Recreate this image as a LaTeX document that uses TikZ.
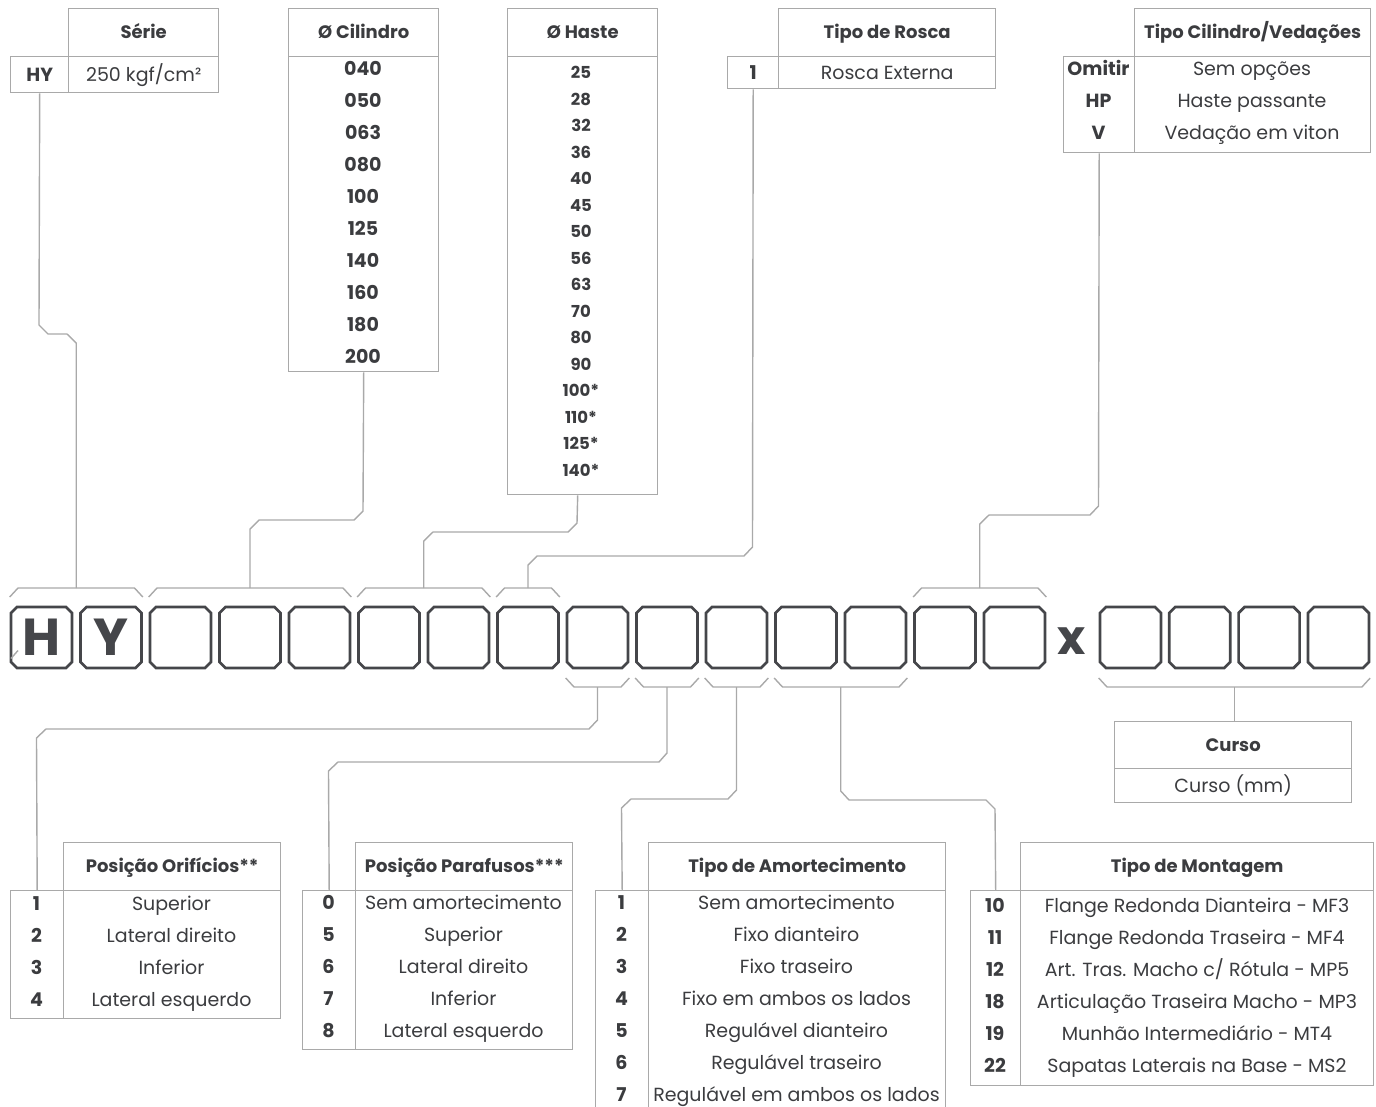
\documentclass[tikz,border=0pt]{standalone}
\usepackage{fontspec}
\setmainfont{Poppins}
\usepackage{tikz}
\usetikzlibrary{calc, positioning}

\definecolor{tinta}{HTML}{3B3C3F}
\definecolor{linha}{HTML}{A9A9A9}
\definecolor{caixa}{HTML}{45464A}

\begin{document}
\begin{tikzpicture}[x=1pt, y=-1pt,
    fio/.style={draw=linha, line width=1.4pt},
    contorno/.style={draw=caixa, line width=2.7pt, line join=miter},
    cela/.style={draw=linha, line width=1.4pt, anchor=north west, inner sep=0pt, text=tinta},
    titulo/.style={font=\bfseries\fontsize{18}{18}\selectfont, text height=15pt, text depth=3pt},
    texto/.style={text=tinta, font=\fontsize{19}{19}\selectfont, text height=16pt, text depth=3pt},
    codigo/.style={text=tinta, font=\bfseries\fontsize{19}{19}\selectfont, text height=16pt, text depth=3pt},
    haste/.style={text=tinta, font=\bfseries\fontsize{16.5}{16.5}\selectfont, text height=13pt, text depth=2pt},
    casa/.style={rectangle, minimum width=61pt, minimum height=61pt, inner sep=0pt, outer sep=0pt},
    letra/.style={text=caixa, font=\bfseries\fontsize{52}{52}\selectfont},
]

    % =================================================================
    % 0. AREA DO DESENHO
    % =================================================================
    \useasboundingbox (0,0) rectangle (1376,1106);
    \clip (0,0) rectangle (1376,1106);

    % =================================================================
    % 1. CASAS DO CODIGO (octogonos)
    % =================================================================
    \foreach \i in {1,...,15}
        \node[casa] (s\i) at ({41.5+69.5*(\i-1)},637.5) {};
    \foreach \j in {1,...,4}
        \node[casa] (c\j) at ({1130.5+69.3*(\j-1)},637.5) {};

    \foreach \n in {s1,s2,s3,s4,s5,s6,s7,s8,s9,s10,s11,s12,s13,s14,s15,c1,c2,c3,c4}
        \draw[contorno] ($(\n.north west)+(6,0)$) -- ($(\n.north east)+(-6,0)$)
            -- ($(\n.north east)+(0,6)$) -- ($(\n.south east)+(0,-6)$)
            -- ($(\n.south east)+(-6,0)$) -- ($(\n.south west)+(6,0)$)
            -- ($(\n.south west)+(0,-6)$) -- ($(\n.north west)+(0,6)$) -- cycle;

    \node[letra] (letraH) at (s1) {H};
    \node[letra] (letraY) at (s2) {Y};
    \node[letra, font=\bfseries\fontsize{48}{48}\selectfont] (vezes) at (1072,641) {x};

    % traço solto na primeira casa
    \draw[fio] ($(s1.west)+(0,21)$) -- ++(7,-8);

    % =================================================================
    % 2. CHAVES ACIMA E ABAIXO DAS CASAS
    % =================================================================
    \foreach \a/\b/\n in {s1/s2/chSerie, s3/s5/chCil, s6/s7/chHaste,
                          s8/s8/chRosca, s14/s15/chVed} {
        \draw[fio] ($(\a.north west)+(-1.3,-10)$) -- ($(\a.north west)+(7,-19)$)
            -- ($(\b.north east)+(-7,-19)$) -- ($(\b.north east)+(1.3,-10)$);
        \coordinate (\n) at ($(\a.north west)!0.5!(\b.north east)+(0,-19)$);
    }
    \foreach \a/\b/\n in {s9/s9/chOrif, s10/s10/chParaf, s11/s11/chAmort,
                          s12/s13/chMont, c1/c4/chCurso} {
        \draw[fio] ($(\a.south west)+(-1.3,10)$) -- ($(\a.south west)+(7,19)$)
            -- ($(\b.south east)+(-7,19)$) -- ($(\b.south east)+(1.3,10)$);
        \coordinate (\n) at ($(\a.south west)!0.5!(\b.south east)+(0,19)$);
    }

    % =================================================================
    % 3. TABELAS DE CIMA
    % =================================================================
    % Série
    \node[cela, titulo, minimum width=150pt, minimum height=48pt] (serieTit) at (68,8) {Série};
    \node[cela, codigo, minimum width=58pt, minimum height=36pt] (serieCod) at (10,56) {HY};
    \node[cela, texto, minimum width=150pt, minimum height=36pt] (serieVal) at (68,56) {250 kgf/cm²};

    % Ø Cilindro
    \node[cela, titulo, minimum width=150pt, minimum height=48pt] (cilTit) at (288,8) {Ø Cilindro};
    \node[cela, minimum width=150pt, minimum height=315pt] (cilCorpo) at (288,56) {};
    \foreach \v [count=\i] in {040,050,063,080,100,125,140,160,180,200}
        \node[codigo] (cil\i) at (363,{37+32*\i}) {\v};

    % Ø Haste
    \node[cela, titulo, minimum width=150pt, minimum height=48pt] (hasteTit) at (507,8) {Ø Haste};
    \node[cela, minimum width=150pt, minimum height=438pt] (hasteCorpo) at (507,56) {};
    \foreach \v [count=\i] in {25,28,32,36,40,45,50,56,63,70,80,90,100*,110*,125*,140*}
        \node[haste] (haste\i) at (581,{46.5+26.5*\i}) {\v};

    % Tipo de Rosca
    \node[cela, titulo, minimum width=217pt, minimum height=48pt] (roscaTit) at (778,8) {Tipo de Rosca};
    \node[cela, codigo, minimum width=51pt, minimum height=32pt] (roscaCod) at (727,56) {1};
    \node[cela, texto, minimum width=217pt, minimum height=32pt] (roscaVal) at (778,56) {Rosca Externa};

    % Tipo Cilindro/Vedações
    \node[cela, titulo, minimum width=236pt, minimum height=48pt] (vedTit) at (1134,8) {Tipo Cilindro/Vedações};
    \node[cela, minimum width=71pt, minimum height=96pt] (vedCod) at (1063,56) {};
    \node[cela, minimum width=236pt, minimum height=96pt] (vedVal) at (1134,56) {};
    \foreach \c/\t [count=\i] in {Omitir/Sem opções, HP/Haste passante, V/Vedação em viton} {
        \node[codigo] (vedC\i) at (1098.5,{37+32*\i}) {\c};
        \node[texto] (vedT\i) at (1252,{37+32*\i}) {\t};
    }

    % =================================================================
    % 4. TABELAS DE BAIXO
    % =================================================================
    % Curso
    \node[cela, titulo, minimum width=237pt, minimum height=47pt] (cursoTit) at (1114,721) {Curso};
    \node[cela, texto, minimum width=237pt, minimum height=34pt] (cursoVal) at (1114,768) {Curso (mm)};

    % Posição Orifícios
    \node[cela, titulo, minimum width=217pt, minimum height=48pt] (orifTit) at (63,842) {Posição Orifícios**};
    \node[cela, minimum width=53pt, minimum height=128pt] (orifCod) at (10,890) {};
    \node[cela, minimum width=217pt, minimum height=128pt] (orifVal) at (63,890) {};
    \foreach \c/\t [count=\i] in {1/Superior, 2/Lateral direito, 3/Inferior, 4/Lateral esquerdo} {
        \node[codigo] (orifC\i) at (36.5,{872+32*\i}) {\c};
        \node[texto] (orifT\i) at (171.5,{872+32*\i}) {\t};
    }

    % Posição Parafusos
    \node[cela, titulo, minimum width=217pt, minimum height=48pt] (parafTit) at (355,842) {Posição Parafusos***};
    \node[cela, minimum width=53pt, minimum height=159pt] (parafCod) at (302,890) {};
    \node[cela, minimum width=217pt, minimum height=159pt] (parafVal) at (355,890) {};
    \foreach \c/\t [count=\i] in {0/Sem amortecimento, 5/Superior, 6/Lateral direito,
                                  7/Inferior, 8/Lateral esquerdo} {
        \node[codigo] (parafC\i) at (328.5,{871+32*\i}) {\c};
        \node[texto] (parafT\i) at (463.5,{871+32*\i}) {\t};
    }

    % Tipo de Amortecimento
    \node[cela, titulo, minimum width=297pt, minimum height=48pt] (amortTit) at (648,842) {Tipo de Amortecimento};
    \node[cela, minimum width=53pt, minimum height=240pt] (amortCod) at (595,890) {};
    \node[cela, minimum width=297pt, minimum height=240pt] (amortVal) at (648,890) {};
    \foreach \c/\t [count=\i] in {1/Sem amortecimento, 2/Fixo dianteiro, 3/Fixo traseiro,
                                  4/Fixo em ambos os lados, 5/Regulável dianteiro,
                                  6/Regulável traseiro, 7/Regulável em ambos os lados} {
        \node[codigo] (amortC\i) at (621.5,{871+32*\i}) {\c};
        \node[texto] (amortT\i) at (796.5,{871+32*\i}) {\t};
    }

    % Tipo de Montagem
    \node[cela, titulo, minimum width=353pt, minimum height=48pt] (montTit) at (1020,842) {Tipo de Montagem};
    \node[cela, minimum width=50pt, minimum height=195pt] (montCod) at (970,890) {};
    \node[cela, minimum width=353pt, minimum height=195pt] (montVal) at (1020,890) {};
    \foreach \c/\t [count=\i] in {10/Flange Redonda Dianteira - MF3, 11/Flange Redonda Traseira - MF4,
                                  12/{Art. Tras. Macho c/ Rótula - MP5}, 18/Articulação Traseira Macho - MP3,
                                  19/Munhão Intermediário - MT4, 22/Sapatas Laterais na Base - MS2} {
        \node[codigo] (montC\i) at (995,{874+32*\i}) {\c};
        \node[texto] (montT\i) at (1197,{874+32*\i}) {\t};
    }

    % =================================================================
    % 5. LIGACOES ENTRE TABELAS E CHAVES
    % =================================================================
    \draw[fio] (serieCod.south) -- (39,325) -- (48,334) -- (67,334) -- (76.25,343) -- (chSerie);
    \draw[fio] (cilCorpo.south) -- (363,511) -- (354,520) -- (259,520) -- (250,529) -- (chCil);
    \draw[fio] ([xshift=-5pt]hasteCorpo.south) -- (577,523) -- (568,532) -- (433,532)
        -- (423.75,541) -- (chHaste);
    \draw[fio] (roscaCod.south) -- (752.5,547) -- (744,556) -- (537,556) -- (528,565) -- (chRosca);
    \draw[fio] (vedCod.south) -- (1098.5,506) -- (1090,515) -- (989,515) -- (979.75,524) -- (chVed);

    \draw[fio] (chOrif) -- (597.5,720) -- (589,729) -- (46,729) -- (36.5,738) -- (orifCod.north);
    \draw[fio] (chParaf) -- (667,753) -- (659,762) -- (338,762) -- (328.5,771) -- (parafCod.north);
    \draw[fio] (chAmort) -- (736.5,790) -- (728,799) -- (631,799) -- (621.5,808) -- (amortCod.north);
    \draw[fio] (chMont) -- (840.75,791) -- (849,800) -- (986,800) -- (995,809) -- (montCod.north);
    \draw[fio] (chCurso) -- (chCurso |- cursoTit.north);

\end{tikzpicture}
\end{document}
